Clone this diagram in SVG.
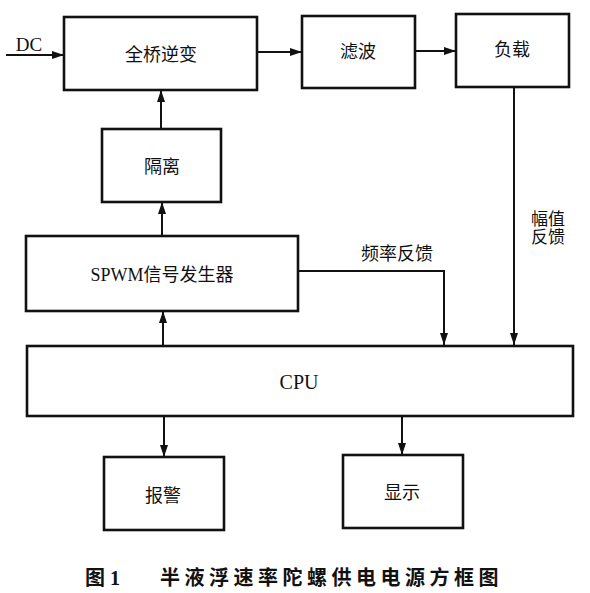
<svg xmlns="http://www.w3.org/2000/svg" width="590" height="593" viewBox="0 0 590 593">
<defs>
<marker id="ah" viewBox="0 0 12 8" refX="12" refY="4" markerWidth="12" markerHeight="8" markerUnits="userSpaceOnUse" orient="auto">
<path d="M0,0 L12,4 L0,8 Z" fill="#111"/>
</marker>
</defs>
<style>
.box{fill:#fff;stroke:#111;stroke-width:2.6}
.t{font-family:"Liberation Serif","Noto Sans CJK SC",serif;font-size:18px;fill:#111;text-anchor:middle;dominant-baseline:central}
.c{fill:none;stroke:#111;stroke-width:2}
.cap{font-family:"Liberation Serif","Noto Sans CJK SC",serif;font-size:20px;font-weight:bold;fill:#111}
</style>
<rect width="590" height="593" fill="#fff"/>
<g id="connectors">
<line class="c" x1="6" y1="55" x2="64" y2="55" marker-end="url(#ah)"/>
<line class="c" x1="257" y1="52" x2="302" y2="52" marker-end="url(#ah)"/>
<line class="c" x1="415" y1="51" x2="456" y2="51" marker-end="url(#ah)"/>
<line class="c" x1="161" y1="129" x2="161" y2="90" marker-end="url(#ah)"/>
<line class="c" x1="162" y1="236" x2="162" y2="202" marker-end="url(#ah)"/>
<line class="c" x1="163" y1="346" x2="163" y2="311" marker-end="url(#ah)"/>
<polyline class="c" points="298,271 444,271 444,345" marker-end="url(#ah)"/>
<line class="c" x1="514" y1="87" x2="514" y2="345" marker-end="url(#ah)"/>
<line class="c" x1="164" y1="416" x2="164" y2="457" marker-end="url(#ah)"/>
<line class="c" x1="402" y1="415" x2="402" y2="455" marker-end="url(#ah)"/>
<text class="t" x="29" y="44" style="font-size:19px">DC</text>
<text class="t" x="397" y="254">频率反馈</text>
<text class="t" x="548" y="219" style="font-size:17px">幅值</text>
<text class="t" x="548" y="237" style="font-size:17px">反馈</text>
</g>
<g id="n-inverter"><rect class="box" x="64" y="17" width="193" height="73"/><text class="t" x="161" y="55">全桥逆变</text></g>
<g id="n-filter"><rect class="box" x="302" y="16" width="113" height="72"/><text class="t" x="358" y="52">滤波</text></g>
<g id="n-load"><rect class="box" x="456" y="14" width="113" height="73"/><text class="t" x="512" y="50">负载</text></g>
<g id="n-isolation"><rect class="box" x="102" y="129" width="119" height="73"/><text class="t" x="162" y="167">隔离</text></g>
<g id="n-spwm"><rect class="box" x="26" y="236" width="272" height="75"/><text class="t" x="162" y="275">SPWM信号发生器</text></g>
<g id="n-cpu"><rect class="box" x="27" y="346" width="546" height="70"/><text class="t" x="299" y="382" style="font-size:20px">CPU</text></g>
<g id="n-alarm"><rect class="box" x="104" y="457" width="120" height="73"/><text class="t" x="163" y="496">报警</text></g>
<g id="n-display"><rect class="box" x="343" y="455" width="120" height="73"/><text class="t" x="402" y="493">显示</text></g>
<g id="caption">
<text class="cap" x="85" y="585">图 1</text>
<text class="cap" x="160" y="585" letter-spacing="4.5">半液浮速率陀螺供电电源方框图</text>
</g>
</svg>
